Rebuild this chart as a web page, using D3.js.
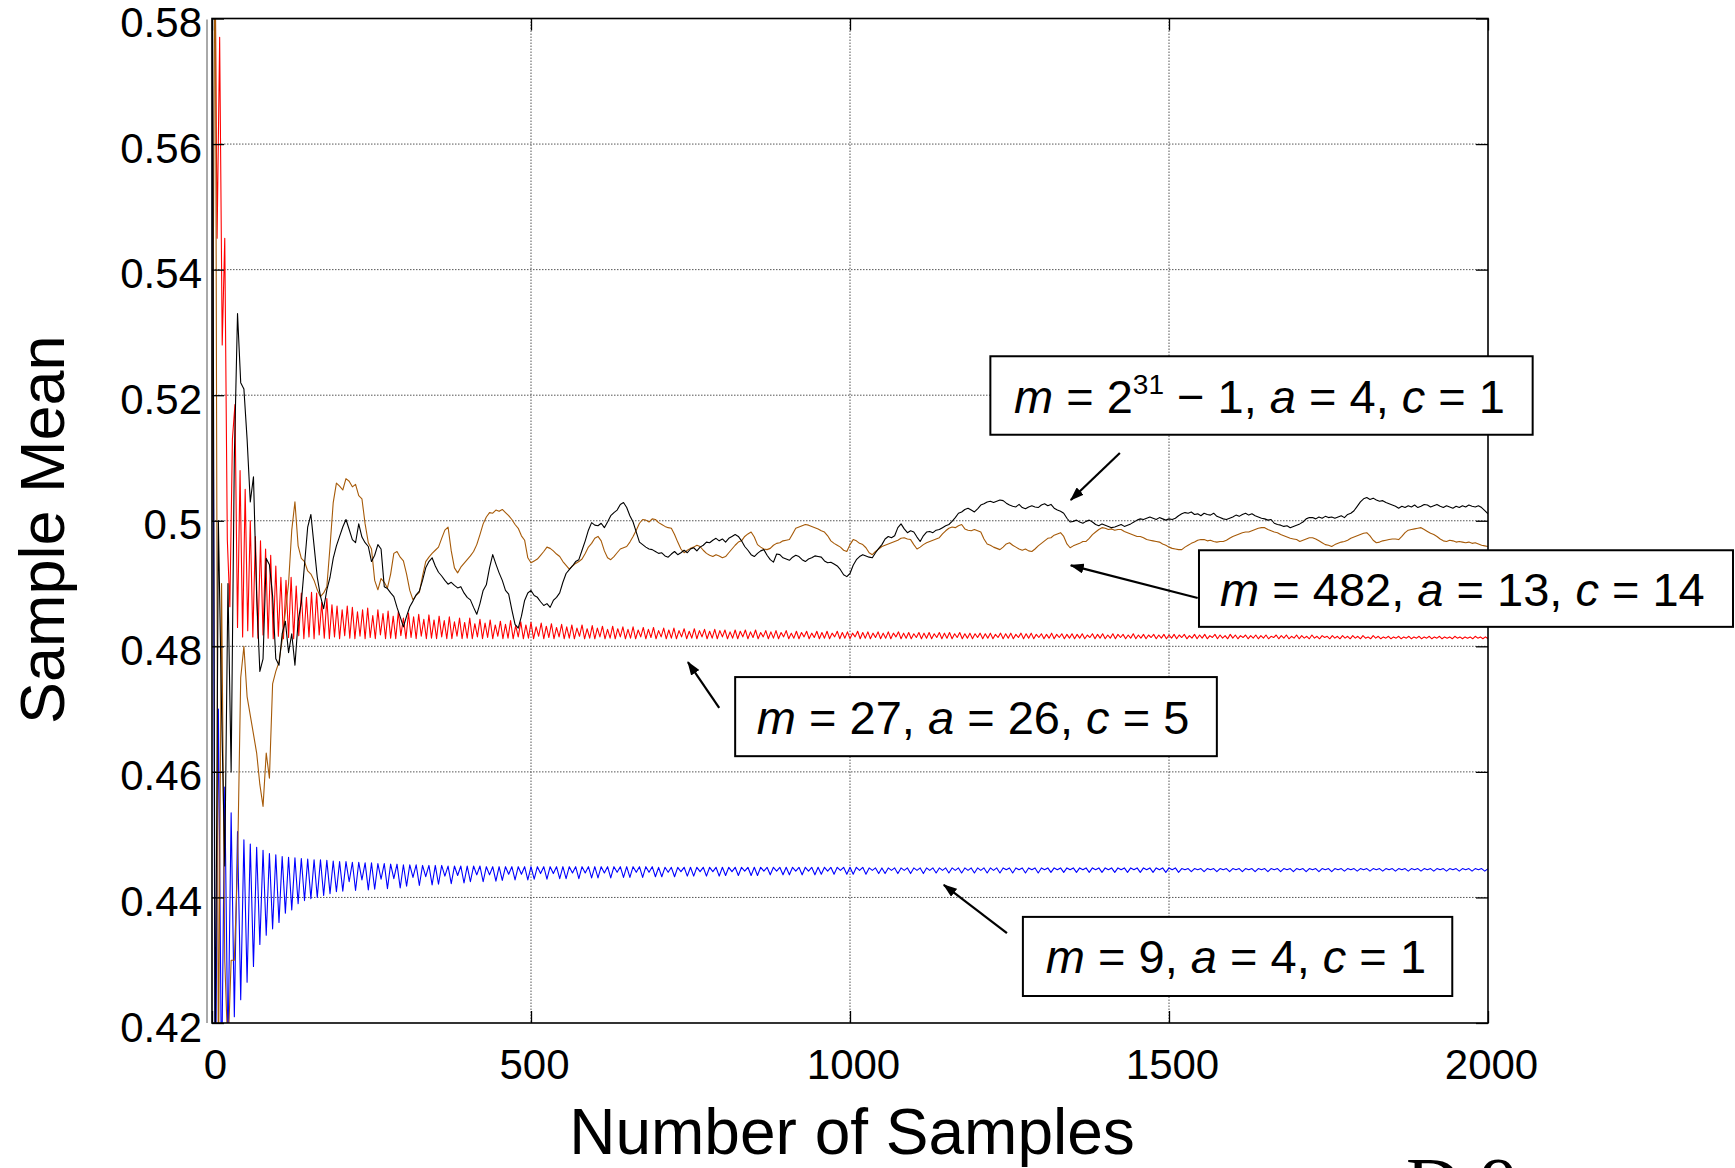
<!DOCTYPE html>
<html>
<head>
<meta charset="utf-8">
<script src="https://cdn.jsdelivr.net/npm/d3@7"></script>
<style>
  html, body { margin: 0; padding: 0; background: #fff; }
  svg { display: block; }
  text { font-family: Arial, "Liberation Sans", sans-serif; fill: #000; }
</style>
</head>
<body>
<svg id="chart" width="1735" height="1168"></svg>
<script>
// axis ticks
const xTicks = [0, 500, 1000, 1500, 2000];
const xTickLabels = ["0", "500", "1000", "1500", "2000"];
const yTicks = [0.42, 0.44, 0.46, 0.48, 0.5, 0.52, 0.54, 0.56, 0.58];
const yTickLabels = ["0.42", "0.44", "0.46", "0.48", "0.5", "0.52", "0.54", "0.56", "0.58"];
const nSamples = 2000;

// m = 9, a = 4, c = 1  (read every 5 samples)
const blueMeans = [
.60,.40,.47,.41,.4576,.415,.4535,.421,.4505,.4237,
.4492,.4265,.4485,.429,.448,.4325,.4475,.434,.447,.435,
.4468,.436,.4465,.4375,.4464,.438,.4463,.439,.4462,.4395,
.4461,.4398,.446,.44,.446,.4403,.4459,.4406,.4458,.4409,
.4457,.441,.4457,.4425,.4456,.4411,.4456,.4428,.4455,.4412,
.4455,.4413,.4454,.4429,.4454,.4414,.4453,.443,.4453,.4415,
.4452,.4418,.4452,.4432,.4452,.4419,.4451,.4433,.4451,.442,
.4451,.4421,.4451,.4434,.445,.4422,.445,.4435,.445,.4423,
.445,.4425,.445,.4436,.445,.4425,.4449,.4436,.4449,.4426,
.4449,.4427,.4449,.4437,.4449,.4428,.4449,.4437,.4449,.4428,
.4449,.4429,.4449,.4438,.4449,.4429,.4449,.4438,.4449,.443,
.4449,.443,.4449,.4439,.4449,.443,.4449,.4439,.4449,.4431,
.4449,.4431,.4449,.4439,.4449,.4431,.4449,.444,.4449,.4432,
.4449,.4432,.4449,.444,.4449,.4432,.4449,.444,.4449,.4433,
.4448,.4433,.4448,.444,.4448,.4433,.4448,.4441,.4448,.4434,
.4448,.4434,.4448,.4441,.4448,.4434,.4448,.4441,.4448,.4434,
.4448,.4435,.4448,.4441,.4448,.4435,.4448,.4442,.4448,.4435,
.4448,.4435,.4448,.4442,.4448,.4436,.4448,.4442,.4448,.4436,
.4448,.4436,.4448,.4442,.4448,.4436,.4448,.4442,.4448,.4436,
.4448,.4437,.4448,.4442,.4448,.4437,.4448,.4443,.4448,.4437,
.4448,.4437,.4448,.4443,.4448,.4437,.4447,.4443,.4447,.4438,
.4447,.4438,.4447,.4443,.4447,.4438,.4447,.4443,.4447,.4438,
.4447,.4443,.4447,.4438,.4447,.4443,.4447,.4439,.4447,.4443,
.4447,.4439,.4447,.4443,.4447,.4439,.4447,.4443,.4447,.4439,
.4447,.4443,.4447,.4439,.4447,.4443,.4447,.4439,.4447,.4444,
.4447,.4439,.4447,.4444,.4447,.4439,.4447,.4444,.4447,.4439,
.4447,.4444,.4447,.444,.4447,.4444,.4447,.444,.4447,.4444,
.4447,.444,.4447,.4444,.4447,.444,.4447,.4444,.4447,.444,
.4447,.4444,.4447,.444,.4447,.4444,.4447,.444,.4447,.4444,
.4447,.444,.4447,.4444,.4447,.444,.4447,.4444,.4447,.444,
.4447,.4444,.4447,.444,.4446,.4444,.4446,.4441,.4446,.4444,
.4446,.4441,.4446,.4444,.4446,.4441,.4446,.4444,.4446,.4441,
.4446,.4444,.4446,.4441,.4446,.4444,.4446,.4441,.4446,.4444,
.4446,.4441,.4446,.4444,.4446,.4441,.4446,.4444,.4446,.4441,
.4446,.4444,.4446,.4441,.4446,.4444,.4446,.4441,.4446,.4444,
.4446,.4441,.4446,.4444,.4446,.4442,.4446,.4444,.4446,.4442,
.4446,.4444,.4446,.4442,.4446,.4444,.4446,.4442,.4446,.4444,
.4446,.4442,.4446,.4444,.4446,.4442,.4446,.4444,.4446,.4442,
.4446,.4444,.4446,.4442,.4446,.4444,.4446,.4442,.4446,.4444,
.4446,.4442,.4446,.4444,.4446,.4442,.4446,.4444,.4446,.4442,
.4446
];

// m = 27, a = 26, c = 5  (read every 4 samples)
const redMeans = [
.578,.60,.545,.577,.528,.545,.497,.4863,.513,.5185,
.483,.508,.4815,.505,.4825,.500,.4815,.4975,.4813,.4968,
.4818,.4955,.4813,.4945,.4812,.4928,.4816,.491,.4812,.4905,
.4814,.491,.4812,.4896,.4817,.4885,.4812,.4878,.4815,.4886,
.4812,.4885,.4818,.487,.4813,.4876,.4812,.4866,.4815,.4864,
.4812,.4858,.4817,.4864,.4813,.4862,.4812,.4855,.4816,.4858,
.4812,.4861,.4814,.4849,.4812,.4858,.4818,.4852,.4812,.4856,
.4813,.4848,.4812,.4855,.4817,.4845,.4812,.4853,.4814,.4847,
.4812,.4851,.4816,.4843,.4812,.485,.4813,.4842,.4812,.4848,
.4815,.4841,.4812,.4847,.4812,.4839,.4816,.4845,.4812,.4838,
.4813,.4845,.4812,.4836,.4815,.4843,.4812,.4837,.4814,.4842,
.4812,.4834,.4816,.484,.4812,.4835,.4813,.4841,.4812,.4833,
.4815,.4839,.4812,.4834,.4813,.4838,.4812,.4831,.4816,.4837,
.4812,.4832,.4814,.4836,.4812,.483,.4815,.4835,.4812,.4831,
.4813,.4834,.4812,.4829,.4816,.4834,.4812,.4828,.4813,.4833,
.4812,.4829,.4815,.4832,.4812,.4827,.4813,.4832,.4812,.4828,
.4815,.4831,.4812,.4827,.4813,.4831,.4812,.4826,.4815,.483,
.4812,.4827,.4814,.483,.4812,.4825,.4815,.4829,.4812,.4826,
.4813,.4829,.4812,.4825,.4815,.4828,.4812,.4824,.4813,.4828,
.4812,.4825,.4815,.4827,.4812,.4824,.4813,.4827,.4812,.4825,
.4815,.4826,.4812,.4823,.4813,.4826,.4812,.4824,.4815,.4826,
.4812,.4823,.4814,.4826,.4812,.4822,.4815,.4825,.4812,.4823,
.4813,.4825,.4812,.4822,.4815,.4825,.4812,.4821,.4813,.4824,
.4812,.4822,.4815,.4824,.4812,.4821,.4814,.4824,.4812,.4822,
.4813,.4824,.4812,.4821,.4815,.4824,.4812,.4822,.4813,.4823,
.4812,.4821,.4815,.4824,.4812,.4822,.4813,.4823,.4812,.4821,
.4814,.4823,.4812,.4821,.4813,.4823,.4812,.4821,.4815,.4823,
.4812,.4821,.4813,.4822,.4812,.482,.4814,.4822,.4812,.4821,
.4813,.4822,.4812,.482,.4814,.4822,.4812,.4821,.4813,.4822,
.4812,.482,.4814,.4822,.4812,.482,.4813,.4821,.4812,.482,
.4814,.4821,.4812,.482,.4813,.4821,.4812,.4819,.4814,.4821,
.4812,.482,.4813,.4821,.4812,.4819,.4814,.4821,.4812,.482,
.4813,.4821,.4812,.4819,.4814,.482,.4812,.4819,.4813,.4821,
.4812,.4819,.4814,.482,.4812,.4819,.4813,.482,.4812,.4819,
.4813,.482,.4812,.4818,.4814,.482,.4812,.4819,.4813,.482,
.4812,.4818,.4813,.482,.4812,.4819,.4814,.4819,.4812,.4818,
.4813,.482,.4812,.4818,.4813,.4819,.4812,.4818,.4814,.4819,
.4812,.4818,.4813,.4819,.4812,.4818,.4813,.4819,.4812,.4818,
.4814,.4819,.4812,.4817,.4813,.4819,.4812,.4818,.4813,.4819,
.4812,.4817,.4814,.4819,.4812,.4818,.4813,.4817,.4812,.4819,
.4813,.4818,.4812,.4817,.4814,.4818,.4812,.4817,.4813,.4818,
.4812,.4817,.4813,.4818,.4812,.4816,.4814,.4818,.4812,.4817,
.4813,.4818,.4812,.4816,.4813,.4818,.4812,.4817,.4813,.4816,
.4812,.4818,.4813,.4816,.4812,.4817,.4814,.4816,.4812,.4817,
.4813,.4816,.4812,.4817,.4813,.4816,.4812,.4817,.4813,.4816,
.4812,.4817,.4813,.4815,.4812,.4817,.4813,.4816,.4812,.4815,
.4813,.4816,.4812,.4815,.4813,.4816,.4812,.4815,.4813,.4816,
.4812,.4815,.4813,.4816,.4812,.4815,.4813,.4816,.4812,.4815,
.4813,.4816,.4812,.4815,.4813,.4815,.4812,.4816,.4813,.4815,
.4812,.4815,.4813,.4815,.4812,.4816,.4813,.4815,.4812,.4815,
.4812
];

// m = 482, a = 13, c = 14  (read every 5 samples)
const brownMeans = [
.50,.60,.41,.49,.43,.415,.43,.43,.445,.475,
.48,.472,.469,.466,.463,.458,.4545,.463,.459,.474,
.476,.4775,.481,.4855,.49,.4985,.503,.496,.494,.4935,
.492,.4915,.4905,.489,.4879,.4885,.4895,.4959,.5029,.506,
.5055,.5049,.5067,.5063,.5054,.5058,.504,.5035,.4995,.4965,
.4955,.4905,.489,.4908,.4902,.4893,.4915,.4948,.4951,.4942,
.4936,.4915,.4889,.4874,.4881,.4886,.4912,.4935,.4942,.4948,
.4953,.4958,.4972,.4985,.499,.4952,.4925,.4917,.4926,.4932,
.4938,.4944,.4951,.4962,.4978,.4995,.5006,.5013,.5012,.5017,
.5015,.5018,.5013,.5008,.5002,.4994,.4988,.4976,.4969,.4941,
.4933,.4936,.4939,.4945,.4951,.4958,.4956,.4952,.4947,.4943,
.4935,.4929,.4923,.4928,.4932,.4935,.4939,.4948,.4958,.4964,
.4972,.4975,.4968,.4952,.4941,.4938,.4943,.4949,.4955,.4957,
.4959,.4966,.4975,.4985,.4996,.5002,.5001,.4998,.5003,.5002,
.4997,.4994,.4991,.4989,.4988,.4978,.4966,.4955,.4949,.4953,
.4956,.4958,.4961,.4959,.4953,.4948,.4945,.4943,.4946,.4944,
.4941,.4943,.4949,.4955,.4961,.4966,.4968,.4975,.4979,.4982,
.4974,.4962,.4958,.4955,.4954,.4956,.4961,.4964,.4965,.4968,
.4969,.497,.4979,.4988,.499,.4992,.4994,.4993,.4991,.4989,
.4987,.4984,.4982,.4976,.4968,.4964,.4961,.4958,.4953,.4951,
.4962,.497,.4968,.4964,.4962,.4957,.4949,.4946,.4951,.4955,
.4959,.4961,.4963,.4965,.4967,.4969,.4972,.4973,.4971,.497,
.4962,.4955,.4958,.4962,.4965,.4967,.4969,.4971,.4973,.4979,
.4984,.4988,.499,.4989,.4992,.4994,.4987,.4985,.4984,.4986,
.4984,.4982,.4971,.4963,.4961,.4958,.4956,.4954,.4958,.4963,
.4965,.4961,.4958,.4955,.4953,.4955,.4952,.4951,.4955,.496,
.4964,.4968,.4972,.4973,.4977,.4979,.4981,.4975,.4963,.4957,
.496,.4962,.4964,.4967,.4967,.4972,.4978,.4982,.4986,.4989,
.4988,.4986,.4987,.4985,.4986,.4986,.4983,.4981,.4979,.4977,
.4975,.4975,.4973,.497,.4969,.4968,.4967,.4966,.4963,.4961,
.4958,.4956,.4955,.4954,.4954,.4958,.4961,.4964,.4966,.4969,
.497,.497,.4968,.4969,.4967,.4966,.4967,.4967,.4969,.4972,
.4975,.4977,.4979,.4981,.4982,.4982,.4984,.4986,.4988,.4989,
.4989,.4986,.4984,.4982,.4981,.4978,.4976,.4974,.4972,.4971,
.497,.4967,.4969,.4971,.4973,.4973,.4971,.4968,.4965,.4962,
.4961,.4959,.4962,.4964,.4966,.4967,.4969,.4972,.4974,.4976,
.4978,.498,.4981,.4976,.4969,.4965,.4966,.4968,.4969,.497,
.4971,.4971,.497,.4975,.4981,.4985,.4986,.4987,.4988,.4989,
.4986,.4983,.498,.4978,.4975,.4971,.4968,.4967,.4969,.4968,
.4966,.4967,.4966,.4965,.4966,.4964,.4965,.4963,.4961,.496,
.4959
];

// m = 2^31 - 1, a = 4, c = 1  (read every 5 samples)
const blackMeans = [
.62,.41,.50,.47,.445,.49,.46,.51,.533,.522,
.521,.513,.503,.507,.488,.476,.478,.494,.493,.488,
.478,.477,.482,.484,.479,.482,.477,.484,.487,.493,
.499,.501,.496,.491,.488,.486,.489,.491,.494,.496,
.4975,.499,.5002,.4986,.497,.4965,.4995,.4974,.4965,.4959,
.4935,.4945,.4962,.4955,.4895,.4892,.4885,.4879,.4862,.4847,
.4831,.4848,.4863,.4872,.4882,.4888,.4905,.4925,.4935,.4941,
.4928,.4918,.4912,.4905,.4899,.4902,.4897,.4893,.4895,.4885,
.4878,.4874,.4862,.4851,.4868,.4889,.4898,.4925,.4946,.4931,
.4917,.4905,.4889,.4883,.4858,.4835,.4829,.4848,.4873,.4885,
.4889,.4881,.4878,.4871,.4865,.4868,.4862,.4873,.4878,.4885,
.4902,.4916,.4922,.4928,.4935,.4938,.4953,.4968,.4985,.4997,
.4993,.4992,.4996,.4989,.4998,.5008,.5013,.5017,.5026,.5029,
.5021,.5008,.4998,.4982,.4966,.4962,.4958,.4955,.4954,.4951,
.4948,.4949,.4944,.4942,.4947,.4951,.4946,.4949,.4953,.4949,
.4955,.4957,.4952,.4958,.4961,.4966,.4965,.4969,.4972,.4968,
.4971,.4966,.4972,.4975,.4978,.4975,.4968,.4959,.4953,.4946,
.4943,.4948,.4952,.4954,.4945,.4938,.4934,.4947,.4946,.4941,
.4939,.4937,.4942,.4945,.4943,.4938,.4935,.4939,.4941,.4944,
.4943,.4942,.4936,.4933,.4934,.4931,.4928,.4922,.4914,.4911,
.4916,.4929,.4938,.4943,.4946,.4944,.4942,.4941,.4949,.4956,
.4962,.4971,.4975,.4973,.4976,.4989,.4995,.4987,.4981,.4984,
.4982,.4974,.4967,.4976,.4982,.4983,.4981,.4985,.4986,.4989,
.4992,.4994,.4999,.5005,.5012,.5014,.5018,.502,.5017,.5014,
.5019,.5025,.5027,.503,.5031,.5029,.5031,.5033,.5032,.5028,
.5025,.5023,.5022,.5026,.5021,.5019,.5022,.5024,.5022,.5021,
.5025,.5027,.5024,.5026,.502,.5017,.5015,.5012,.5004,.4998,
.4999,.5001,.4998,.4996,.4999,.5001,.4998,.4994,.4992,.4995,
.4993,.4991,.4989,.499,.4992,.4994,.4991,.4993,.4995,.4998,
.5001,.5003,.5002,.5004,.5006,.5004,.5002,.5005,.5003,.5001,
.5003,.5002,.5004,.5008,.5011,.5013,.5012,.5014,.501,.5011,
.5008,.5012,.501,.5009,.5012,.5007,.5005,.5003,.5002,.5004,
.5006,.5009,.5007,.501,.5012,.5009,.5011,.5008,.5006,.5004,
.5003,.5001,.5002,.4996,.4994,.4993,.4991,.4992,.4989,.4991,
.4993,.4995,.4998,.5003,.5005,.5005,.5003,.5006,.5004,.5007,
.5005,.5006,.5004,.5006,.5008,.5005,.501,.5012,.5016,.5023,
.503,.5035,.5037,.5034,.5036,.5033,.5031,.5032,.5029,.5027,
.5025,.5023,.502,.5023,.5021,.5024,.5022,.5025,.5021,.5023,
.5026,.5025,.5022,.5024,.5026,.5023,.5021,.5024,.5022,.502,
.5023,.5021,.5024,.5022,.5025,.5023,.5022,.5024,.5021,.5016,
.5011
];

// annotation labels
const labelBig = [["m", "it"], [" = 2"], ["31", "sup"], [" \u2212 1, "], ["a", "it"], [" = 4, "], ["c", "it"], [" = 1"]];
const label482 = [["m", "it"], [" = 482, "], ["a", "it"], [" = 13, "], ["c", "it"], [" = 14"]];
const label27 = [["m", "it"], [" = 27, "], ["a", "it"], [" = 26, "], ["c", "it"], [" = 5"]];
const label9 = [["m", "it"], [" = 9, "], ["a", "it"], [" = 4, "], ["c", "it"], [" = 1"]];

// box [n0, n1, vTop, vBottom], text anchor [n, v], arrow [nFrom, vFrom, nTo, vTo]
const annotations = [
  {parts: labelBig, box: [1220, 2070, 0.5262, 0.5137], text: [1257, 0.5172], arrow: [1423, 0.5108, 1346, 0.5033]},
  {parts: label482, box: [1547, 2384, 0.4953, 0.4831], text: [1580, 0.4864], arrow: [1545, 0.4877, 1346, 0.4929]},
  {parts: label27, box: [820, 1575, 0.4751, 0.4625], text: [854, 0.4660], arrow: [795, 0.4702, 746, 0.4775]},
  {parts: label9, box: [1271, 1944, 0.4369, 0.4243], text: [1307, 0.4280], arrow: [1246, 0.4343, 1147, 0.4420]}
];

const svg = d3.select("#chart");
const margin = {top: 18.5, right: 247, bottom: 145, left: 212};
const width = +svg.attr("width") - margin.left - margin.right;
const height = +svg.attr("height") - margin.top - margin.bottom;

const g = svg.append("g").attr("transform", `translate(${margin.left}, ${margin.top})`);

const x = d3.scaleLinear().domain([0, nSamples]).range([0, width]);
const y = d3.scaleLinear().domain([0.42, 0.58]).range([height, 0]);

const defs = svg.append("defs");
defs.append("clipPath").attr("id", "plotclip")
  .append("rect").attr("width", width).attr("height", height);
defs.append("marker")
  .attr("id", "head")
  .attr("viewBox", "0 0 14 10")
  .attr("refX", 13).attr("refY", 5)
  .attr("markerWidth", 14).attr("markerHeight", 10)
  .attr("markerUnits", "userSpaceOnUse")
  .attr("orient", "auto")
  .append("path").attr("d", "M0,0L14,5L0,10Z").attr("fill", "#000");

// dotted grid
const grid = g.append("g").attr("class", "grid");
grid.selectAll("line.gy")
  .data(yTicks.slice(1, -1))
  .join("line")
  .attr("class", "gy")
  .attr("x1", 0).attr("x2", width)
  .attr("y1", d => y(d)).attr("y2", d => y(d));
grid.selectAll("line.gx")
  .data(xTicks.slice(1, -1))
  .join("line")
  .attr("class", "gx")
  .attr("y1", 0).attr("y2", height)
  .attr("x1", d => x(d)).attr("x2", d => x(d));
grid.selectAll("line")
  .attr("stroke", "#555")
  .attr("stroke-width", 1)
  .attr("stroke-dasharray", "1.5,1.5");

// series
const line = d3.line()
  .x((d, i, arr) => x(i * nSamples / (arr.length - 1)))
  .y(d => y(d));

const series = [
  {values: blueMeans, color: "#0000ff"},
  {values: redMeans, color: "#ff0000"},
  {values: brownMeans, color: "#a65a08"},
  {values: blackMeans, color: "#000000"}
];

g.append("g").attr("clip-path", "url(#plotclip)")
  .selectAll("path")
  .data(series)
  .join("path")
  .attr("fill", "none")
  .attr("stroke", d => d.color)
  .attr("stroke-width", 1.1)
  .attr("stroke-linejoin", "round")
  .attr("d", d => line(d.values));

// axes (ticks inside, like matlab)
const yAxis = g.append("g")
  .call(d3.axisLeft(y).tickValues(yTicks).tickSize(-12).tickSizeOuter(0).tickPadding(10)
    .tickFormat((d, i) => yTickLabels[i]));
const xAxis = g.append("g")
  .attr("transform", `translate(0, ${height})`)
  .call(d3.axisBottom(x).tickValues(xTicks).tickSize(-12).tickSizeOuter(0).tickPadding(26)
    .tickFormat((d, i) => xTickLabels[i]));
g.append("g")
  .attr("transform", `translate(${width}, 0)`)
  .call(d3.axisRight(y).tickValues(yTicks).tickSize(-12).tickSizeOuter(0).tickFormat(""));
g.append("g")
  .call(d3.axisTop(x).tickValues(xTicks).tickSize(-12).tickSizeOuter(0).tickFormat(""));

g.selectAll(".domain").remove();
g.selectAll(".tick line").attr("stroke", "#000").attr("stroke-width", 1.3);
yAxis.selectAll("text").attr("dy", "0.43em").style("font-size", "42px").attr("fill", "#000");
xAxis.selectAll("text").attr("dx", 3).style("font-size", "42px").attr("fill", "#000");

// frame
g.append("rect")
  .attr("width", width).attr("height", height)
  .attr("fill", "none").attr("stroke", "#000").attr("stroke-width", 1.6);
g.append("line")
  .attr("x1", -5).attr("x2", -5).attr("y1", 1).attr("y2", height)
  .attr("stroke", "#555").attr("stroke-width", 1);

// axis titles
g.append("text")
  .attr("x", width / 2 + 2).attr("y", height + 131)
  .attr("text-anchor", "middle")
  .style("font-size", "64px")
  .text("Number of Samples");
g.append("text")
  .attr("transform", `translate(-148, ${height / 2 + 9}) rotate(-90)`)
  .attr("text-anchor", "middle")
  .style("font-size", "63px")
  .text("Sample Mean");

// annotations
annotations.forEach(a => {
  g.append("line")
    .attr("x1", x(a.arrow[0])).attr("y1", y(a.arrow[1]))
    .attr("x2", x(a.arrow[2])).attr("y2", y(a.arrow[3]))
    .attr("stroke", "#000").attr("stroke-width", 2.2)
    .attr("marker-end", "url(#head)");
  g.append("rect")
    .attr("x", x(a.box[0])).attr("y", y(a.box[2]))
    .attr("width", x(a.box[1]) - x(a.box[0]))
    .attr("height", y(a.box[3]) - y(a.box[2]))
    .attr("fill", "#fff").attr("stroke", "#000").attr("stroke-width", 2);
  const t = g.append("text")
    .attr("x", x(a.text[0])).attr("y", y(a.text[1]))
    .style("font-size", "47px")
    .style("white-space", "pre");
  let raised = false;
  a.parts.forEach(([s, kind]) => {
    const ts = t.append("tspan").text(s);
    if (kind === "it") ts.style("font-style", "italic");
    if (kind === "sup") {
      ts.attr("dy", -19).style("font-size", "28px");
      raised = true;
    } else if (raised) {
      ts.attr("dy", 19);
      raised = false;
    }
  });
});

// slide number peeking in at the bottom edge
svg.append("text")
  .attr("x", 1406).attr("y", 1210)
  .style("font-family", "'Liberation Serif', 'Times New Roman', serif")
  .style("font-size", "76px")
  .text("D.9");
</script>
</body>
</html>
